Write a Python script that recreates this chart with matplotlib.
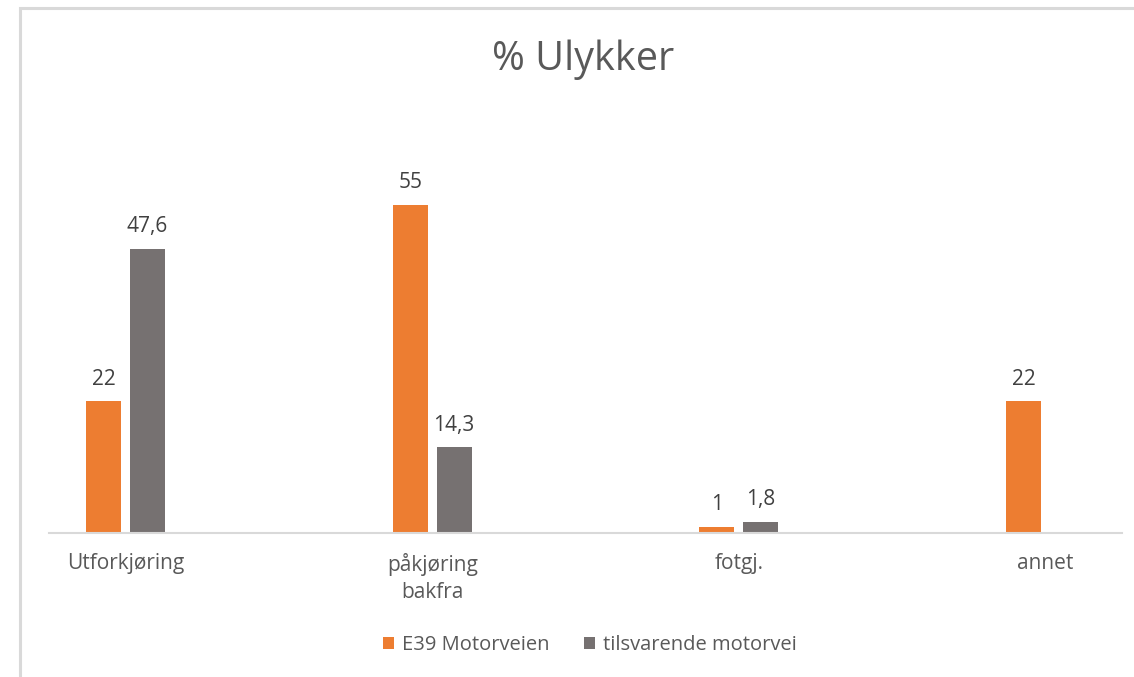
import numpy as np
import matplotlib
matplotlib.use("Agg")
from matplotlib import pyplot as plt
from matplotlib.patches import Rectangle

plt.rcParams['font.family'] = ['Open Sans', 'DejaVu Sans']

categories = ['Utforkjøring', 'påkjøring\nbakfra', 'fotgj.', 'annet']
e39 = [22, 55, 1, 22]
tilsvarende = [47.6, 14.3, 1.8, np.nan]
series_names = ['E39 Motorveien', 'tilsvarende motorvei']
title = '% Ulykker'

orange = '#ED7D31'
grey = '#767171'
txt = '#595959'

fig = plt.figure(figsize=(11.34, 6.77), dpi=100)
# chart border (cut at right / bottom like the screenshot)
fig.patches.append(Rectangle((20 / 1134, -0.1), 1.2, 1.1 - 8 / 677, transform=fig.transFigure,
                             fill=False, edgecolor='#D9D9D9', linewidth=2.2))

ax = fig.add_axes([49 / 1134, 1 - 532.5 / 677, (1122 - 49) / 1134, (532.5 - 175) / 677])
x = np.arange(len(categories))
w = 0.114
b1 = ax.bar(x - 0.0715, e39, w, color=orange, label=series_names[0])
b2 = ax.bar(x + 0.0715, tilsvarende, w, color=grey, label=series_names[1])

def fmt(v):
    s = ('%g' % v).replace('.', ',')
    return s

for bars, vals in ((b1, e39), (b2, tilsvarende)):
    for r, v in zip(bars, vals):
        if np.isnan(v):
            continue
        ax.annotate(fmt(v), (r.get_x() + r.get_width() / 2, v), xytext=(0, 12),
                    textcoords='offset points', ha='center', va='baseline',
                    fontsize=15, color='#404040')

ax.set_xlim(-0.25, 3.25)
ax.set_ylim(0, 60)
ax.set_yticks([])
ax.set_xticks(x)
ax.set_xticklabels(categories, fontsize=15, color=txt, linespacing=1.35)
ax.tick_params(axis='x', length=0, pad=15)
for s in ['top', 'right', 'left']:
    ax.spines[s].set_visible(False)
ax.spines['bottom'].set_color('#D9D9D9')
ax.spines['bottom'].set_linewidth(1.5)

fig.text(583 / 1134, 1 - 60 / 677, title, ha='center', va='center', fontsize=28.5, color=txt)

fig.legend(loc='center', bbox_to_anchor=(590 / 1134, 1 - 645 / 677), ncol=2, frameon=False,
           fontsize=14.5, labelcolor=txt, handlelength=0.55, handleheight=0.55,
           handletextpad=0.4, columnspacing=1.7)

fig.savefig('out.png', dpi=100)
